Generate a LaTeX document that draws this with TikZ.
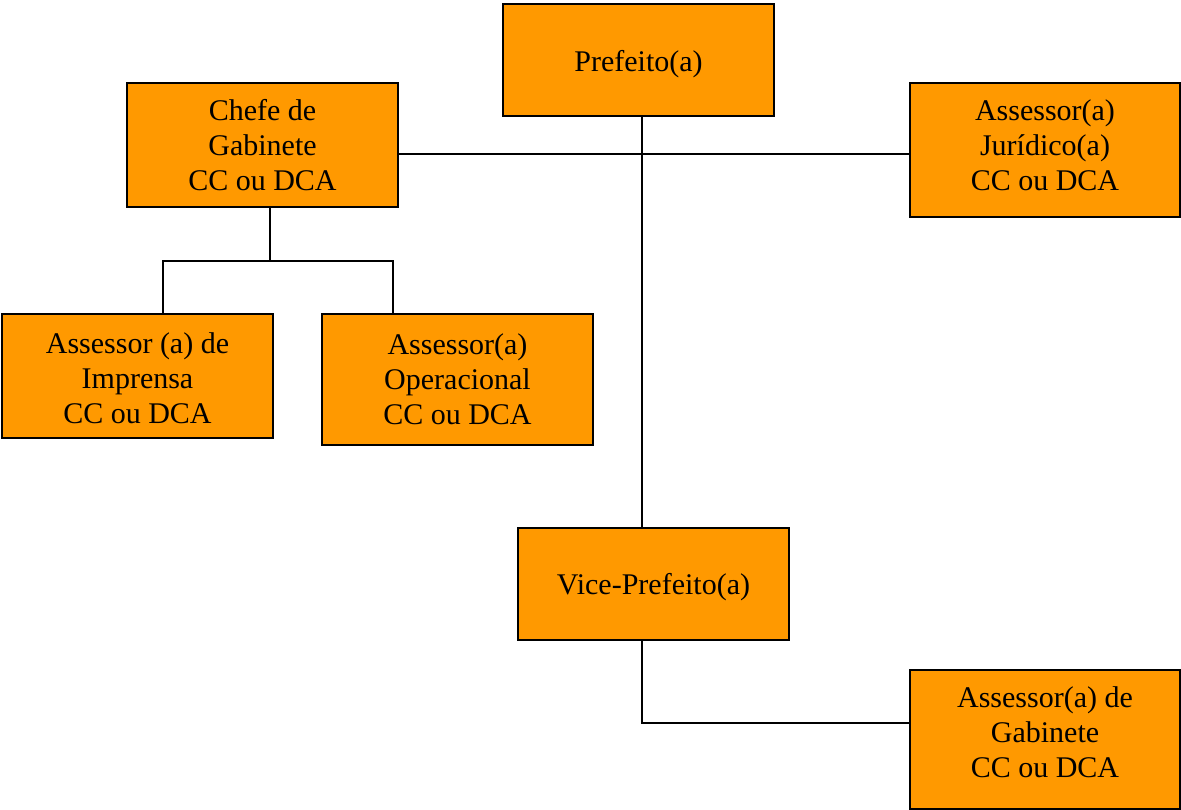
\documentclass[tikz,border=0pt]{standalone}
\usepackage{fontspec}
\setmainfont{Liberation Serif}
\definecolor{boxfill}{HTML}{FF9900}
\begin{document}
\begin{tikzpicture}[x=1pt,y=-1pt,
  post/.style={draw=black, line width=2pt, fill=boxfill, rectangle,
    minimum width=271pt, inner sep=0pt},
  caption/.style={inner sep=0pt, align=center,
    font=\fontsize{30}{35}\selectfont},
  link/.style={draw=black, line width=2pt}]
  \useasboundingbox (0,0) rectangle (1181,810);

  % offices
  \node[post, minimum height=112pt] (pref) at (638.5,60) {};
  \node[post, minimum height=124pt] (chefe) at (262.5,145) {};
  \node[post, minimum width=270pt, minimum height=134pt] (jur) at (1045,150) {};
  \node[post, minimum height=124pt] (imp) at (137.5,376) {};
  \node[post, minimum height=131pt] (oper) at (457.5,379.5) {};
  \node[post, minimum height=112pt] (vice) at (653.5,584) {};
  \node[post, minimum width=270pt, minimum height=139pt] (gab) at (1045,739.5) {};

  % titles (yshift is in page units: positive moves up)
  \node[caption] (preft) at ([yshift=-4pt]pref.center) {Prefeito(a)};
  \node[caption] (chefet) at (chefe.center) {Chefe de\\Gabinete\\CC ou DCA};
  \node[caption] (jurt) at ([yshift=5pt]jur.center) {Assessor(a)\\Jurídico(a)\\CC ou DCA};
  \node[caption] (impt) at ([yshift=-2pt]imp.center) {Assessor (a) de\\Imprensa\\CC ou DCA};
  \node[caption] (opert) at (oper.center) {Assessor(a)\\Operacional\\CC ou DCA};
  \node[caption] (vicet) at ([yshift=-3pt]vice.center) {Vice-Prefeito(a)};
  \node[caption] (gabt) at ([yshift=7pt]gab.center) {Assessor(a) de\\Gabinete\\CC ou DCA};

  % routing guides
  \coordinate (trunk) at (642,0);
  \coordinate (hbar) at (0,154);
  \coordinate (cdrop) at (270,0);
  \coordinate (bus) at (0,261);
  \coordinate (impx) at (163,0);
  \coordinate (operx) at (393,0);
  \coordinate (gabrow) at (0,723);

  % connectors
  \draw[link] (pref.south -| trunk) -- (vice.north -| trunk);
  \draw[link] (chefe.east |- hbar) -- (jur.west |- hbar);
  \draw[link] (chefe.south -| cdrop) -- (cdrop |- bus);
  \draw[link] (imp.north -| impx) -- (impx |- bus) -- (operx |- bus) -- (oper.north -| operx);
  \draw[link] (vice.south -| trunk) -- (trunk |- gabrow) -- (gab.west |- gabrow);
\end{tikzpicture}
\end{document}
